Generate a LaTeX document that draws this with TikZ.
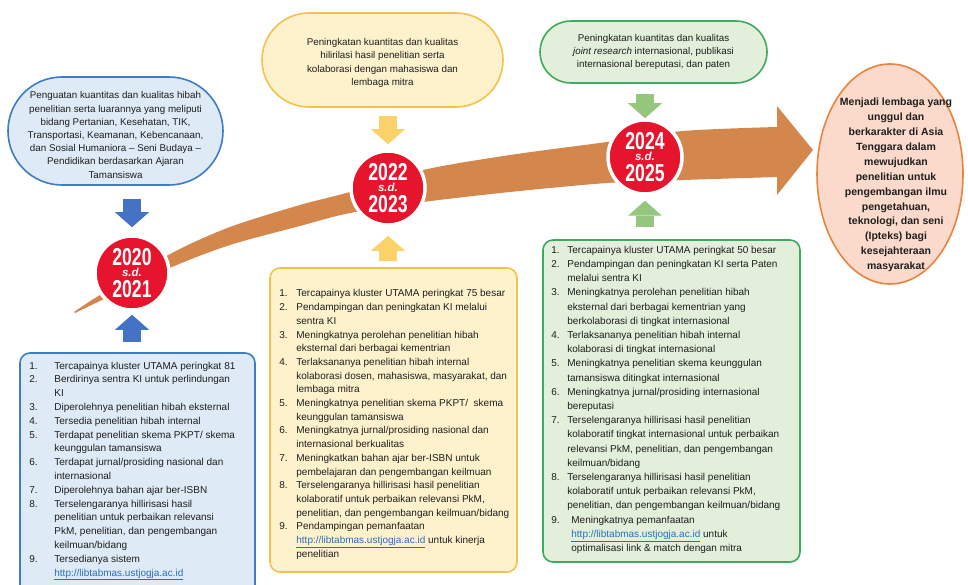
\documentclass[tikz,border=0pt]{standalone}
\usepackage{fontspec}
\setmainfont{Liberation Sans}
\newfontfamily\yearfont[FakeStretch=0.72]{Liberation Sans}
\usetikzlibrary{positioning, shapes.misc, shapes.geometric, arrows.meta}
\definecolor{bandorange}{HTML}{D4874C}
\definecolor{yearred}{HTML}{E6142D}
\definecolor{textgray}{HTML}{1E1E1E}
\definecolor{linkblue}{HTML}{2A6EBB}
\definecolor{lineblue}{HTML}{3E7CC4}
\definecolor{fillblue}{HTML}{DEEAF6}
\definecolor{arrowblue}{HTML}{4472C4}
\definecolor{lineyellow}{HTML}{F2C14E}
\definecolor{fillyellow}{HTML}{FEF2CC}
\definecolor{arrowyellow}{HTML}{FBD26A}
\definecolor{linegreen}{HTML}{3FAA5F}
\definecolor{fillgreen}{HTML}{E2EFDA}
\definecolor{arrowgreen}{HTML}{94C67E}
\definecolor{lineorange}{HTML}{E8843E}
\definecolor{fillorange}{HTML}{FBDACB}
\newcommand{\weblink}[1]{\textcolor{linkblue}{\underline{#1}}}
\newcommand{\sdtext}{{\rmfamily\bfseries\itshape\fontsize{11.5}{11.5}\selectfont s.d.}}
\tikzstyle{pillbox} = [rounded rectangle, line width=1.6pt, inner sep=0pt]
\tikzstyle{pilltext} = [align=center, inner sep=0pt, text=textgray, font=\fontsize{9.8}{13.2}\selectfont]
\tikzstyle{listbox} = [rectangle, rounded corners=10pt, line width=1.6pt]
\tikzstyle{listtext} = [inner sep=0pt, anchor=north west, text=textgray]
\tikzstyle{yearcirc} = [circle, fill=yearred, draw=white, line width=3.5pt, minimum size=74pt, inner sep=0pt, text=white, align=center, font=\yearfont\bfseries\fontsize{24.5}{22}\selectfont]
\tikzstyle{blockarrow} = [line width=18pt, -{Triangle[width=34pt,length=15pt,line width=0pt]}]

\begin{document}
\begin{tikzpicture}[x=1pt, y=-1pt]
        \useasboundingbox (0,0) rectangle (968,585);
        \clip (0,0) rectangle (968,585);
        \fill[white] (0,0) rectangle (968,585);
        % the road from 2020 to the goal
        \fill[bandorange] plot[smooth] coordinates {(74,312) (100,295) (172,253) (230,227) (300,205) (350,192) (423,170) (510,155) (607,142) (683,131) (777,127)}
            -- (777,106) -- (813,150) -- (777,195)
            -- plot[smooth] coordinates {(777,177) (683,180) (607,183) (510,192) (423,202) (350,213) (300,226) (230,245) (172,267) (102,300) (75,313)} -- cycle;
        \node[yearcirc] (c2020) at (132,273) {2020\\[-11pt]\sdtext\\[-0.5pt]2021};
        \node[yearcirc] (c2022) at (388,188) {2022\\[-11pt]\sdtext\\[-0.5pt]2023};
        \node[yearcirc] (c2024) at (645,157) {2024\\[-11pt]\sdtext\\[-0.5pt]2025};
        % top boxes
        \node[pillbox, draw=lineblue, fill=fillblue, minimum width=215pt, minimum height=108pt] (aimA) at (115.5,131) {};
        \node[pilltext] (aimAtxt) at ([yshift=-4pt]aimA.center) {Penguatan kuantitas dan kualitas hibah\\penelitian serta luarannya yang meliputi\\bidang Pertanian, Kesehatan, TIK,\\Transportasi, Keamanan, Kebencanaan,\\dan Sosial Humaniora -- Seni Budaya --\\Pendidikan berdasarkan Ajaran\\Tamansiswa};
        \node[pillbox, draw=lineyellow, fill=fillyellow, minimum width=241pt, minimum height=94pt] (aimB) at (382.5,60) {};
        \node[pilltext] (aimBtxt) at ([yshift=-3pt]aimB.center) {Peningkatan kuantitas dan kualitas\\hilirilasi hasil penelitian serta\\kolaborasi dengan mahasiswa dan\\lembaga mitra};
        \node[pillbox, draw=linegreen, fill=fillgreen, minimum width=227pt, minimum height=62pt] (aimC) at (653.5,52) {};
        \node[pilltext] (aimCtxt) at (aimC.center) {Peningkatan kuantitas dan kualitas\\\textit{joint research} internasional, publikasi\\internasional bereputasi, dan paten};
        % goal
        \node[ellipse, draw=lineorange, fill=fillorange, line width=1.6pt, minimum width=146pt, minimum height=220pt] (goal) at (890,174) {};
        \node[align=center, inner sep=0pt, text=textgray, font=\bfseries\fontsize{10.5}{14.9}\selectfont] (goaltxt) at ([xshift=6pt,yshift=-11pt]goal.center) {Menjadi lembaga yang\\unggul dan\\berkarakter di Asia\\Tenggara dalam\\mewujudkan\\penelitian untuk\\pengembangan ilmu\\pengetahuan,\\teknologi, dan seni\\(Ipteks) bagi\\kesejahteraan\\masyarakat};
        % bottom boxes
        \node[listbox, draw=lineblue, fill=fillblue, minimum width=235pt, minimum height=250pt] (boxA) at (137.5,478) {};
        \node[listbox, draw=lineyellow, fill=fillyellow, minimum width=247pt, minimum height=304pt] (boxB) at (393.5,420) {};
        \node[listbox, draw=linegreen, fill=fillgreen, minimum width=257pt, minimum height=322pt] (boxC) at (671.5,401) {};
        \node[listtext, font=\fontsize{10}{13.8}\selectfont] (listA) at ([xshift=10pt,yshift=-7pt]boxA.north west) {\begin{tabular}{@{}p{25pt}@{}l@{}}
            1. & Tercapainya kluster UTAMA peringkat 81\\
            2. & Berdirinya sentra KI untuk perlindungan\\
               & KI\\
            3. & Diperolehnya penelitian hibah eksternal\\
            4. & Tersedia penelitian hibah internal\\
            5. & Terdapat penelitian skema PKPT/ skema\\
               & keunggulan tamansiswa\\
            6. & Terdapat jurnal/prosiding nasional dan\\
               & internasional\\
            7. & Diperolehnya bahan ajar ber-ISBN\\
            8. & Terselengaranya hillirisasi hasil\\
               & penelitian untuk perbaikan relevansi\\
               & PkM, penelitian, dan pengembangan\\
               & keilmuan/bidang\\
            9. & Tersedianya sistem\\
               & \weblink{http://libtabmas.ustjogja.ac.id}
        \end{tabular}};
        \node[listtext, font=\fontsize{10}{13.7}\selectfont] (listB) at ([xshift=10pt,yshift=-20pt]boxB.north west) {\begin{tabular}{@{}p{17pt}@{}l@{}}
            1. & Tercapainya kluster UTAMA peringkat 75 besar\\
            2. & Pendampingan dan peningkatan KI melalui\\
               & sentra KI\\
            3. & Meningkatnya perolehan penelitian hibah\\
               & eksternal dari berbagai kementrian\\
            4. & Terlaksananya penelitian hibah internal\\
               & kolaborasi dosen, mahasiswa, masyarakat, dan\\
               & lembaga mitra\\
            5. & Meningkatnya penelitian skema PKPT/\ \ skema\\
               & keunggulan tamansiswa\\
            6. & Meningkatnya jurnal/prosiding nasional dan\\
               & internasional berkualitas\\
            7. & Meningkatkan bahan ajar ber-ISBN untuk\\
               & pembelajaran dan pengembangan keilmuan\\
            8. & Terselengaranya hillirisasi hasil penelitian\\
               & kolaboratif untuk perbaikan relevansi PkM,\\
               & penelitian, dan pengembangan keilmuan/bidang\\
            9. & Pendampingan pemanfaatan\\
               & \weblink{http://libtabmas.ustjogja.ac.id} untuk kinerja\\
               & penelitian
        \end{tabular}};
        \node[listtext, font=\fontsize{10}{14.2}\selectfont] (listC) at ([xshift=9pt,yshift=-4pt]boxC.north west) {\begin{tabular}{@{}p{16pt}@{}l@{}}
            1. & Tercapainya kluster UTAMA peringkat 50 besar\\
            2. & Pendampingan dan peningkatan KI serta Paten\\
               & melalui sentra KI\\
            3. & Meningkatnya perolehan penelitian hibah\\
               & eksternal dari berbagai kementrian yang\\
               & berkolaborasi di tingkat internasional\\
            4. & Terlaksananya penelitian hibah internal\\
               & kolaborasi di tingkat internasional\\
            5. & Meningkatnya penelitian skema keunggulan\\
               & tamansiswa ditingkat internasional\\
            6. & Meningkatnya jurnal/prosiding internasional\\
               & bereputasi\\
            7. & Terselengaranya hillirisasi hasil penelitian\\
               & kolaboratif tingkat internasional untuk perbaikan\\
               & relevansi PkM, penelitian, dan pengembangan\\
               & keilmuan/bidang\\
            8. & Terselengaranya hillirisasi hasil penelitian\\
               & kolaboratif untuk perbaikan relevansi PkM,\\
               & penelitian, dan pengembangan keilmuan/bidang\\
            9. & \hspace{4pt}Meningkatnya pemanfaatan\\
               & \hspace{4pt}\weblink{http://libtabmas.ustjogja.ac.id} untuk\\
               & \hspace{4pt}optimalisasi link \& match dengan mitra
        \end{tabular}};
        % arrows into the circles
        \draw[blockarrow, arrowblue, shorten <=13pt, shorten >=7pt] (aimA.south -| c2020) -- (c2020.north);
        \draw[blockarrow, arrowblue, shorten <=10pt, shorten >=3pt] (boxA.north -| c2020) -- (c2020.south);
        \draw[blockarrow, arrowyellow, shorten <=8pt, shorten >=5pt] (aimB.south -| c2022) -- (c2022.north);
        \draw[blockarrow, arrowyellow, shorten <=6pt, shorten >=9pt] (boxB.north -| c2022) -- (c2022.south);
        \draw[blockarrow, arrowgreen, shorten <=10pt, shorten >=0pt] (aimC.south -| c2024) -- (c2024.north);
        \draw[blockarrow, arrowgreen, shorten <=12pt, shorten >=5pt] (boxC.north -| c2024) -- (c2024.south);
\end{tikzpicture}
\end{document}
